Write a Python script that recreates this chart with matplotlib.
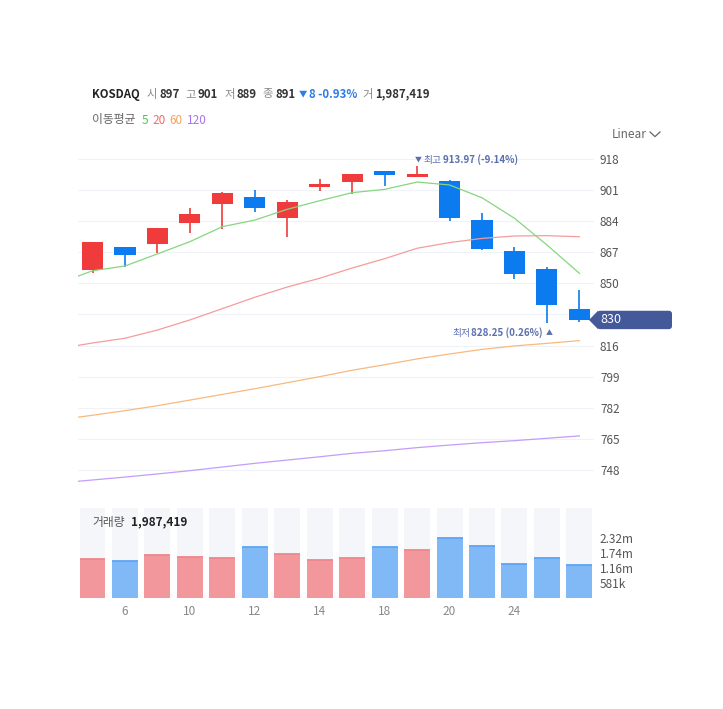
import numpy as np
import matplotlib
matplotlib.use("Agg")
import matplotlib.pyplot as plt
from matplotlib.patches import Polygon, FancyBboxPatch
from matplotlib.lines import Line2D
from matplotlib.transforms import IdentityTransform

plt.rcParams['font.family'] = ['Noto Sans CJK KR', 'DejaVu Sans']

W, H = 723, 709

# daily candles (KOSDAQ)
dates = [5, 6, 9, 10, 11, 12, 13, 14, 17, 18, 19, 20, 23, 24, 25, 26]
opens = [857.3, 869.9, 871.5, 883.0, 893.4, 897.0, 885.7, 902.7,
         905.4, 911.4, 908.0, 906.0, 884.6, 867.7, 857.9, 836.0]
highs = [872.6, 869.9, 880.3, 891.0, 899.8, 901.0, 895.6, 906.9,
         909.8, 911.4, 913.97, 906.5, 888.6, 870.1, 858.8, 846.4]
lows = [855.8, 859.1, 866.4, 877.4, 879.7, 889.0, 875.4, 900.7,
        899.0, 903.1, 908.0, 884.3, 868.2, 852.6, 828.25, 829.0]
closes = [872.6, 865.5, 880.3, 887.9, 899.4, 891.0, 894.5, 904.3,
          909.8, 909.1, 910.0, 885.7, 868.8, 855.3, 838.4, 830.0]
volumes = [1510000, 1433000, 1665000, 1588000, 1549000, 1987419, 1704000, 1472000,
           1549000, 1975000, 1859000, 2324000, 2014000, 1317000, 1549000, 1278000]

# moving averages, first value is the day before the window
ma5 = [850.3, 856.9, 859.5, 866.1, 872.8, 881.0, 884.6, 890.5, 895.2,
       899.6, 901.4, 905.4, 903.8, 896.8, 885.6, 871.0, 855.5]
ma20 = [814.5, 817.4, 820.0, 824.5, 830.0, 836.2, 842.4, 848.0, 852.8,
        858.4, 863.5, 869.2, 872.3, 874.6, 875.9, 876.1, 875.5]
ma60 = [775.5, 777.9, 780.4, 783.1, 786.2, 789.3, 792.4, 795.7, 799.0,
        802.5, 805.5, 808.7, 811.4, 813.9, 815.8, 817.2, 818.7]
ma120 = [740.9, 742.5, 744.1, 745.8, 747.6, 749.6, 751.6, 753.4, 755.2,
         757.1, 758.5, 760.2, 761.6, 762.9, 764.0, 765.3, 766.6]

price_ticks = [748, 765, 782, 799, 816, 833, 850, 867, 884, 901, 918]
price_tick_labels = ['748', '765', '782', '799', '816', '', '850', '867', '884', '901', '918']
vol_ticks = [581000, 1162000, 1743000, 2324000]
vol_tick_labels = ['581k', '1.16m', '1.74m', '2.32m']

up_col, dn_col = '#EF3B3B', '#0B7BEF'
vup_col, vdn_col = '#F2989C', '#81B9F7'
vup_top, vdn_top = '#EE878C', '#5EA5F4'
grid_col = '#EFF2F6'
note_col = '#5A6FAD'

fig = plt.figure(figsize=(W / 100, H / 100), dpi=100)
rend = fig.canvas.get_renderer()


def box(l, t, r, b):
    return [l / W, 1 - b / H, (r - l) / W, (b - t) / H]


def fx(x, y):
    return x / W, 1 - y / H


def chain(x0, y, pieces):
    # lay text pieces left to right, each after a pixel gap
    cx = x0
    for s, gap, kw in pieces:
        cx += gap
        t = fig.text(*fx(cx, y), s, ha='left', va='center', **kw)
        cx = t.get_window_extent(rend).x1


ax = fig.add_axes(box(78, 150, 594, 490))
axv = fig.add_axes(box(78, 508.3, 594, 598.3))

x = np.arange(len(dates))
xma = np.arange(-1, len(dates))

for a in (ax, axv):
    a.set_xlim(-0.447, 15.45)
    for s in a.spines.values():
        s.set_visible(False)
    a.tick_params(length=0)
    a.yaxis.tick_right()

# price panel
ax.set_ylim(737.03, 922.92)
ax.set_yticks(price_ticks, price_tick_labels)
ax.set_xticks([])
ax.tick_params(axis='y', pad=4.3, labelsize=8.5, labelcolor='#555555')
for v in price_ticks:
    ax.axhline(v, color=grid_col, lw=0.8, zorder=0)

for i in x:
    c = up_col if closes[i] >= opens[i] else dn_col
    ax.vlines(i, lows[i], highs[i], color=c, lw=1.2, zorder=3)
    lo, hi = sorted((opens[i], closes[i]))
    ax.bar(i, hi - lo, 0.65, bottom=lo, color=c, zorder=4)

ax.plot(xma, ma5, color='#86D67E', lw=0.9, zorder=5)
ax.plot(xma, ma20, color='#F59C9C', lw=0.9, zorder=5)
ax.plot(xma, ma60, color='#F9B97E', lw=0.9, zorder=5)
ax.plot(xma, ma120, color='#C49CF9', lw=0.9, zorder=5)

# volume panel
vmax = 3.486e6
axv.set_ylim(0, vmax)
axv.bar(x, [vmax] * len(x), 0.8, color='#F5F6FA', zorder=0)
vcols = [vup_col if c >= o else vdn_col for o, c in zip(opens, closes)]
vtops = [vup_top if c >= o else vdn_top for o, c in zip(opens, closes)]
axv.bar(x, volumes, 0.8, color=vcols, zorder=2)
axv.hlines(volumes, x - 0.4, x + 0.4, colors=vtops, lw=1.3, zorder=3)
axv.set_yticks(vol_ticks, vol_tick_labels)
axv.tick_params(axis='y', pad=4.3, labelsize=8.5, labelcolor='#555555')
axv.set_xticks(x[1:14:2], [str(dates[i]) for i in x[1:14:2]])
axv.tick_params(axis='x', pad=4.5, labelsize=8.5, labelcolor='#888888')

# header
fs = 8.2
lab = dict(color='#8A8A8A', fontsize=fs)
num = dict(color='#333333', fontsize=fs, fontweight='bold')
blue = dict(color='#2F7BE8', fontsize=fs, fontweight='bold')
chain(92, 94.3, [('KOSDAQ', 0, dict(color='#222222', fontsize=fs, fontweight='bold')),
                 ('시', 7, lab), ('897', 2, num),
                 ('고', 6, lab), ('901', 2, num),
                 ('저', 6, lab), ('889', 2, num),
                 ('종', 6, lab), ('891', 2, num),
                 ('▼', 3, dict(color='#2F7BE8', fontsize=6)),
                 ('8 -0.93%', 2, blue),
                 ('거', 5, lab), ('1,987,419', 2, num)])

chain(92, 120, [('이동평균', 0, dict(color='#666666', fontsize=8.5)),
                ('5', 6, dict(color='#4CC94C', fontsize=8.5)),
                ('20', 4, dict(color='#F26B6B', fontsize=8.5)),
                ('60', 4, dict(color='#F5A256', fontsize=8.5)),
                ('120', 4, dict(color='#A775F0', fontsize=8.5))])

fig.text(*fx(612, 134.3), 'Linear', color='#666666', fontsize=8.5, ha='left', va='center')
fig.add_artist(Line2D([650 / W, 655 / W, 660 / W],
                      [1 - 132 / H, 1 - 136.6 / H, 1 - 132 / H],
                      color='#666666', lw=0.9))

# high / low notes
chain(415, 159.5, [('▼', 0, dict(color=note_col, fontsize=5)),
                   ('최고', 1.5, dict(color=note_col, fontsize=7)),
                   ('913.97 (-9.14%)', 2, dict(color=note_col, fontsize=7, fontweight='bold'))])
fig.text(*fx(543, 332.7), '828.25 (0.26%)', color=note_col, fontsize=7,
         fontweight='bold', ha='right', va='center')
fig.text(*fx(470, 332.7), '최저', color=note_col, fontsize=7, ha='right', va='center')
fig.text(*fx(545.5, 332.7), '▲', color=note_col, fontsize=5, ha='left', va='center')

# volume caption
chain(92, 522.3, [('거래량', 0, dict(color='#555555', fontsize=8.5)),
                  ('1,987,419', 6, dict(color='#222222', fontsize=8.5, fontweight='bold'))])

# last price tag
yc = ax.transData.transform((0, closes[-1]))[1]
tag_col = '#44599A'
fig.add_artist(Polygon([(589, yc), (598, yc + 9.2), (598, yc - 9.2)], closed=True,
                       facecolor=tag_col, edgecolor='none', transform=IdentityTransform(),
                       zorder=10))
fig.add_artist(FancyBboxPatch((597, yc - 9.2), 75, 18.4,
                              boxstyle='round,pad=0,rounding_size=3',
                              facecolor=tag_col, edgecolor='none',
                              transform=IdentityTransform(), zorder=10))
fig.text(600 / W, yc / H, f'{closes[-1]:.0f}', color='white', fontsize=9,
         ha='left', va='center', zorder=11)

fig.savefig('out.png', dpi=100)
